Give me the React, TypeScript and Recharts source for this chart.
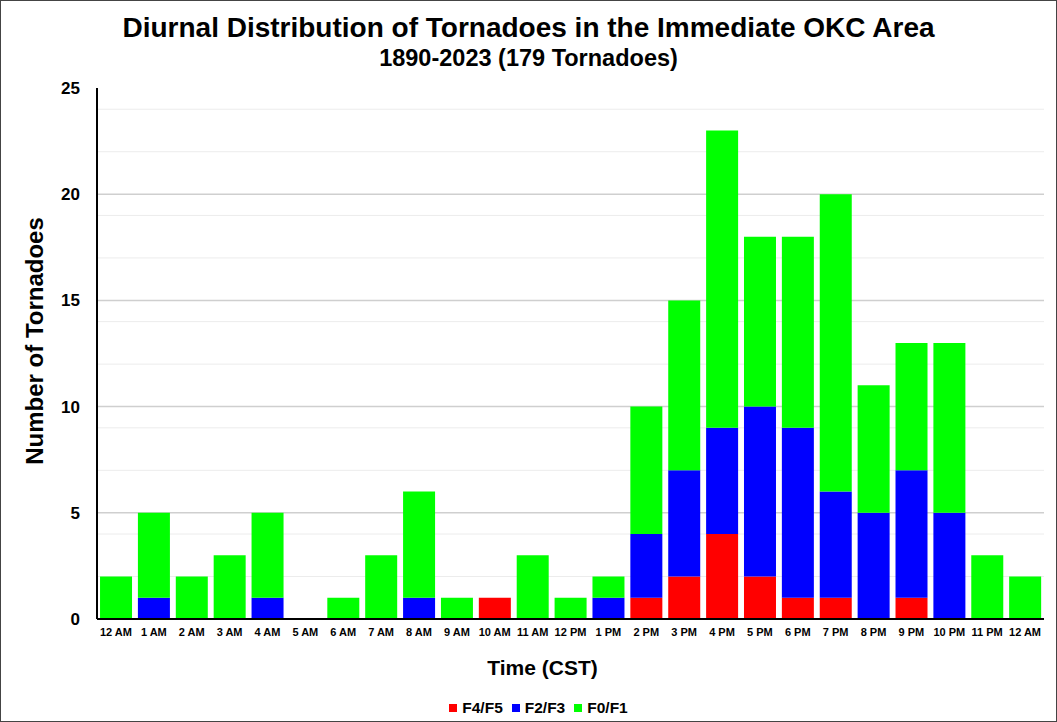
import React from "react";
import { BarChart, Bar, XAxis, YAxis, CartesianGrid, Legend } from "recharts";

const hours = ["12 AM","1 AM","2 AM","3 AM","4 AM","5 AM","6 AM","7 AM","8 AM","9 AM","10 AM","11 AM","12 PM","1 PM","2 PM","3 PM","4 PM","5 PM","6 PM","7 PM","8 PM","9 PM","10 PM","11 PM","12 AM"];
const f45 = [0,0,0,0,0,0,0,0,0,0,1,0,0,0,1,2,4,2,1,1,0,1,0,0,0];
const f23 = [0,1,0,0,1,0,0,0,1,0,0,0,0,1,3,5,5,8,8,5,5,6,5,0,0];
const f01 = [2,4,2,3,4,0,1,3,5,1,0,3,1,1,6,8,14,8,9,14,6,6,8,3,2];
const yTicks = [0,5,10,15,20,25];
const minorLines = [1,2,3,4,6,7,8,9,11,12,13,14,16,17,18,19,21,22,23,24];
const majorLines = [5,10,15,20];

const data = hours.map((h, i) => ({ hour: h, idx: i, f45: f45[i], f23: f23[i], f01: f01[i] }));

const FONT = "Arial, 'Liberation Sans', sans-serif";

const legendItems = [
  { label: "F4/F5", color: "#ff0000" },
  { label: "F2/F3", color: "#0000ff" },
  { label: "F0/F1", color: "#00ff00" },
];

const LegendContent = () => (
  <div style={{ display: "flex", justifyContent: "center", alignItems: "center", fontFamily: FONT, fontWeight: "bold", fontSize: 15.5, color: "#000", paddingLeft: 41, height: 30, paddingTop: 3, boxSizing: "border-box" }}>
    {legendItems.map((it) => (
      <div key={it.label} style={{ display: "flex", alignItems: "center", marginRight: 9 }}>
        <div style={{ width: 8, height: 8, background: it.color, marginRight: 5 }} />
        <span>{it.label}</span>
      </div>
    ))}
  </div>
);

const YLabel = () => (
  <text x={33} y={340} transform="rotate(-90 33 340)" textAnchor="middle" dominantBaseline="central"
    style={{ fontSize: 24, fontWeight: "bold", fill: "#000", fontFamily: FONT }}>
    Number of Tornadoes
  </text>
);

export default function App() {
  return (
    <div style={{ position: "absolute", left: 0, top: 0, width: 1055, height: 720, border: "1px solid #444", background: "#fff", fontFamily: FONT }}>
      <div style={{ position: "absolute", top: 11, left: 0, width: 1055, textAlign: "center", fontWeight: "bold", fontSize: 28, color: "#000" }}>
        Diurnal Distribution of Tornadoes in the Immediate OKC Area
      </div>
      <div style={{ position: "absolute", top: 44, left: 0, width: 1055, textAlign: "center", fontWeight: "bold", fontSize: 23.5, color: "#000" }}>
        1890-2023 (179 Tornadoes)
      </div>
      <div style={{ position: "absolute", top: 0, left: 0 }}>
        <BarChart width={1055} height={720} data={data} margin={{ top: 87, right: 12, bottom: 0, left: 0 }} barCategoryGap="8%">
          <CartesianGrid vertical={false} horizontalValues={minorLines} stroke="#ececec" strokeWidth={1} />
          <CartesianGrid vertical={false} horizontalValues={majorLines} stroke="#cfcfcf" strokeWidth={1.5} />
          <XAxis dataKey="hour" allowDuplicatedCategory={true} interval={0} height={72} tickLine={false} axisLine={{ stroke: "#000", strokeWidth: 2 }}
            tick={{ fontSize: 11, fontWeight: "bold", fill: "#000", fontFamily: FONT }} tickMargin={3}
            label={{ value: "Time (CST)", position: "insideBottom", offset: 16, dx: -28, style: { fontSize: 21, fontWeight: "bold", fill: "#000", fontFamily: FONT } }} />
          <XAxis xAxisId="top" orientation="top" dataKey="idx" height={0} tick={false} tickLine={false} axisLine={{ stroke: "#000", strokeWidth: 1.5 }} />
          <YAxis domain={[0, 25]} ticks={yTicks} width={96} tickLine={false} axisLine={{ stroke: "#000", strokeWidth: 2 }}
            tick={{ fontSize: 17, fontWeight: "bold", fill: "#000", fontFamily: FONT }} tickMargin={11}
            label={<YLabel />} />
          <YAxis yAxisId="right" orientation="right" domain={[0, 25]} width={0} tick={false} tickLine={false} axisLine={{ stroke: "#000", strokeWidth: 1.5 }} />
          <Legend verticalAlign="bottom" height={30} content={<LegendContent />} />
          <Bar dataKey="f45" stackId="a" fill="#ff0000" isAnimationActive={false} name="F4/F5" />
          <Bar dataKey="f23" stackId="a" fill="#0000ff" isAnimationActive={false} name="F2/F3" />
          <Bar dataKey="f01" stackId="a" fill="#00ff00" isAnimationActive={false} name="F0/F1" />
        </BarChart>
      </div>
    </div>
  );
}
